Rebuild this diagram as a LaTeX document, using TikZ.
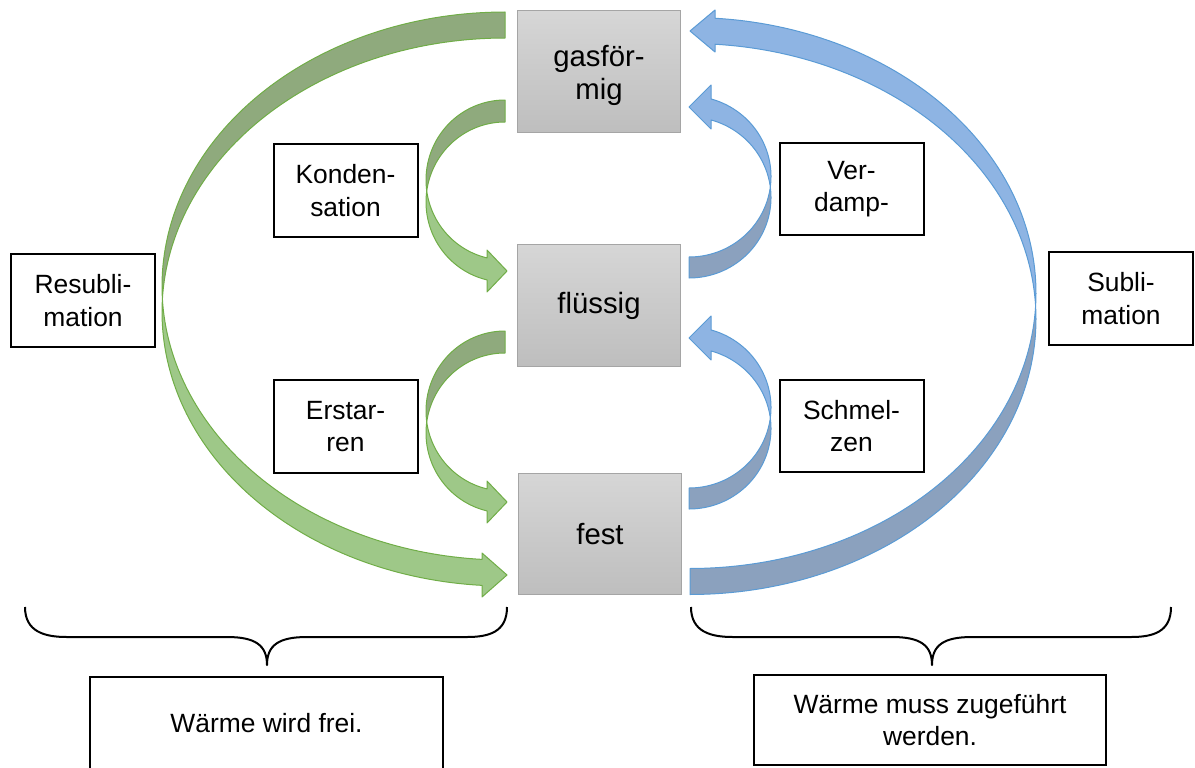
\documentclass[tikz,border=0pt]{standalone}
\usepackage{fontspec}
\setmainfont{Liberation Sans}
\definecolor{gdark}{RGB}{143,170,125}
\definecolor{glight}{RGB}{158,200,136}
\definecolor{gline}{RGB}{112,173,71}
\definecolor{bdark}{RGB}{139,161,190}
\definecolor{blight}{RGB}{142,180,227}
\definecolor{bline}{RGB}{91,155,213}
\definecolor{boxtop}{RGB}{214,214,214}
\definecolor{boxbot}{RGB}{190,190,190}
\definecolor{boxline}{RGB}{165,165,165}
% #1 cx, #2 rx, #3 ry, #4 centre y of upper ellipse, #5 offset, #6 head base x, #7 head top y, #8 tip x, #9 head bottom y
\newcommand{\leftcurve}[9]{%
  \pgfmathsetmacro\crvD{asin(#5/(2*#3))}%
  \pgfmathsetmacro\crvT{acos((#6-#1)/#2)}%
  \pgfmathsetmacro\crvY{(#7+#9)/2}%
  \pgfmathsetmacro\crvB{#4+#5}%
  \pgfmathsetmacro\crvAe{180-\crvD}%
  \pgfmathsetmacro\crvBs{180+\crvD}%
  \filldraw[fill=gdark, draw=gline, arrowline]
    plot[domain=270:\crvAe, samples=70] ({#1+#2*cos(\x)},{#4+#3*sin(\x)})
    -- plot[domain=\crvBs:270, samples=70] ({#1+#2*cos(\x)},{\crvB+#3*sin(\x)}) -- cycle;
  \filldraw[fill=glight, draw=gline, arrowline]
    plot[domain=\crvAe:\crvT, samples=70] ({#1+#2*cos(\x)},{#4+#3*sin(\x)})
    -- (#6,#7) -- (#8,\crvY) -- (#6,#9)
    -- plot[domain=\crvT:\crvBs, samples=70] ({#1+#2*cos(\x)},{\crvB+#3*sin(\x)}) -- cycle;
}
\newcommand{\rightcurve}[9]{%
  \pgfmathsetmacro\crvD{asin(#5/(2*#3))}%
  \pgfmathsetmacro\crvT{-acos((#6-#1)/#2)}%
  \pgfmathsetmacro\crvY{(#7+#9)/2}%
  \pgfmathsetmacro\crvB{#4+#5}%
  \pgfmathsetmacro\crvAe{\crvD}%
  \pgfmathsetmacro\crvBs{-\crvD}%
  \filldraw[fill=bdark, draw=bline, arrowline]
    plot[domain=90:\crvBs, samples=70] ({#1+#2*cos(\x)},{\crvB+#3*sin(\x)})
    -- plot[domain=\crvAe:90, samples=70] ({#1+#2*cos(\x)},{#4+#3*sin(\x)}) -- cycle;
  \filldraw[fill=blight, draw=bline, arrowline]
    plot[domain=\crvAe:\crvT, samples=70] ({#1+#2*cos(\x)},{#4+#3*sin(\x)})
    -- (#6,#7) -- (#8,\crvY) -- (#6,#9)
    -- plot[domain=\crvT:\crvBs, samples=70] ({#1+#2*cos(\x)},{\crvB+#3*sin(\x)}) -- cycle;
}
\begin{document}
\begin{tikzpicture}[x=0.75pt, y=-0.75pt,
  arrowline/.style={line width=0.75pt, line join=round},
  statebox/.style={draw=boxline, line width=0.75pt, top color=boxtop, bottom color=boxbot,
    minimum width=122pt, minimum height=91pt, inner sep=0pt, align=center,
    font=\fontsize{22}{25}\selectfont},
  lbl/.style={draw=black, line width=1.5pt, fill=white, align=center, inner sep=0pt,
    minimum width=108pt, minimum height=69.5pt, font=\fontsize{19.8}{24.5}\selectfont},
  wide/.style={lbl, minimum width=264.5pt},
  bracel/.style={draw=black, line width=1.5pt, line join=round}]
\useasboundingbox (0,0) rectangle (1195,767);
\clip (0,0) rectangle (1195,767);

% curved block arrows
\leftcurve{505}{343}{274}{286}{26}{482}{553}{507}{597}
\leftcurve{505}{79}{80}{180}{22}{487}{250}{507}{292}
\leftcurve{505}{79}{80}{411}{22}{487}{481}{507}{523}
\rightcurve{690}{346}{275.5}{293}{26}{715}{10}{690}{52}
\rightcurve{689}{82}{80.5}{176.5}{21}{711}{85}{689}{129}
\rightcurve{689}{82}{80.5}{407.5}{21}{711}{316}{689}{360}

% states
\node[statebox] (gas) at (599,71.5) {\rule{0pt}{22pt}gasför-\\mig};
\node[statebox] (fl) at (599,305.5) {flüssig};
\node[statebox] (fe) at (600,534) {fest};

% labels
\node[lbl] (resub) at (83,300.5) {Resubli-\\mation};
\node[lbl] (kond) at (345.5,190.5) {Konden-\\sation};
\node[lbl] (erst) at (345.5,426.5) {Erstar-\\ren};
\node[lbl] (verd) at (851.5,189) {Ver-\\damp-};
\node[lbl] (schm) at (851.5,426) {Schmel-\\zen};
\node[lbl] (subl) at (1121,298.5) {Subli-\\mation};

% braces
\draw[bracel] (25,607) .. controls (25,632) and (45,637) .. (67,637) -- (227,637)
  .. controls (255,637) and (267,645) .. (267,665)
  .. controls (267,645) and (279,637) .. (307,637) -- (467,637)
  .. controls (489,637) and (507,632) .. (507,607);
\draw[bracel] (691,607) .. controls (691,632) and (711,637) .. (733,637) -- (892,637)
  .. controls (920,637) and (932,645) .. (932,665)
  .. controls (932,645) and (944,637) .. (972,637) -- (1131,637)
  .. controls (1153,637) and (1171,632) .. (1171,607);

% heat boxes
\node[wide, minimum height=69pt] (frei) at (266.5,723) {Wärme wird frei.};
\node[wide, minimum height=67.5pt] (zu) at (930,720) {Wärme muss zugeführt\\werden.};
\end{tikzpicture}
\end{document}
